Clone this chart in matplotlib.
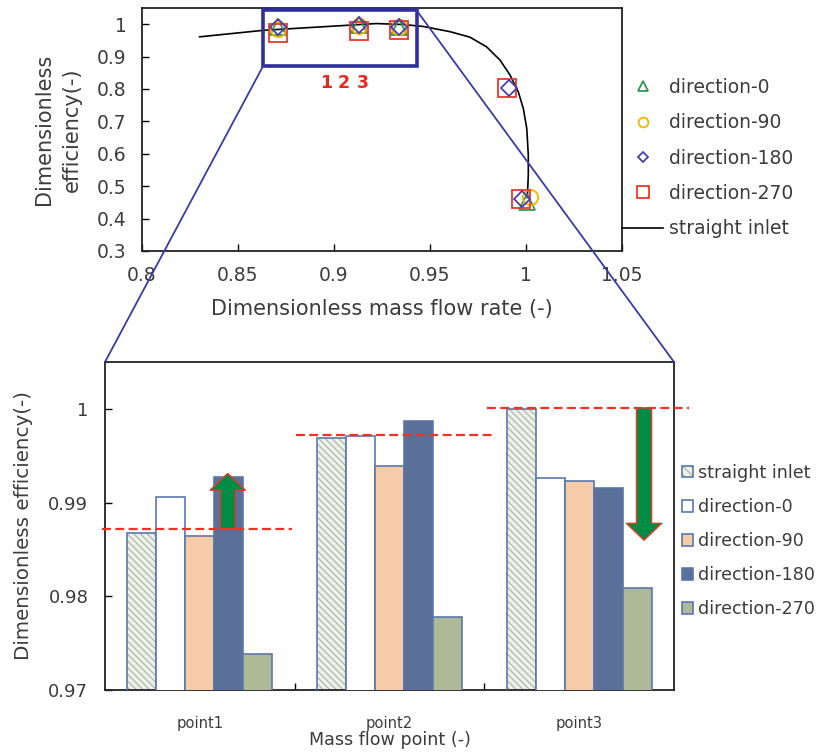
import numpy as np
import matplotlib
matplotlib.use('Agg')
import matplotlib.pyplot as plt
from matplotlib.patches import Rectangle, Patch, FancyArrowPatch, ConnectionPatch
from matplotlib.lines import Line2D
from matplotlib.legend_handler import HandlerTuple

plt.rcParams['font.family'] = 'DejaVu Sans'
plt.rcParams['hatch.linewidth'] = 0.8
TXT = '#3c3c3c'

# ---- top chart data ----
dir_labels = ['direction-0', 'direction-90', 'direction-180', 'direction-270']
dir0_x = [0.871, 0.913, 0.934, 1.0004]
dir0_y = [0.9906, 0.9971, 0.9926, 0.452]
dir90_x = [0.871, 0.913, 0.934, 1.002]
dir90_y = [0.9864, 0.9939, 0.9923, 0.467]
dir180_x = [0.871, 0.913, 0.934, 0.9911, 0.9977]
dir180_y = [0.9927, 0.9987, 0.9916, 0.803, 0.460]
dir270_x = [0.871, 0.913, 0.934, 0.9903, 0.9972]
dir270_y = [0.9738, 0.9778, 0.9809, 0.803, 0.462]

straight_x = [0.830, 0.863, 0.894, 0.922, 0.936, 0.9465, 0.9517, 0.9604, 0.9708,
              0.9795, 0.9865, 0.9917, 0.9960, 0.9986, 1.0004, 1.0012, 1.0012, 1.0007]
straight_y = [0.961, 0.981, 0.992, 1.002, 0.999, 0.993, 0.987, 0.977, 0.960,
              0.930, 0.889, 0.843, 0.791, 0.740, 0.678, 0.596, 0.534, 0.465]

top_xticks = [0.8, 0.85, 0.9, 0.95, 1.0, 1.05]
top_xlabels = ['0.8', '0.85', '0.9', '0.95', '1', '1.05']
top_yticks = [0.3, 0.4, 0.5, 0.6, 0.7, 0.8, 0.9, 1.0]
top_ylabels = ['0.3', '0.4', '0.5', '0.6', '0.7', '0.8', '0.9', '1']

# ---- bottom chart data ----
points = ['point1', 'point2', 'point3']
bar_labels = ['straight inlet', 'direction-0', 'direction-90', 'direction-180', 'direction-270']
straight_eff = [0.9867, 0.9969, 1.0000]
dir0_eff = [0.9906, 0.9971, 0.9926]
dir90_eff = [0.9864, 0.9939, 0.9923]
dir180_eff = [0.9927, 0.9987, 0.9916]
dir270_eff = [0.9738, 0.9778, 0.9809]
ref_levels = [0.9872, 0.9972, 1.0001]

fig = plt.figure(figsize=(8.23, 7.54), dpi=100)

# ================= top chart =================
ax1 = fig.add_axes([142 / 823, 1 - 251 / 754, 480 / 823, 243 / 754])
ax1.plot(straight_x, straight_y, color='black', lw=1.2, zorder=2)
ax1.plot(dir0_x, dir0_y, ls='none', marker='^', ms=11, mfc='none', mec='#2e9a4a', mew=1.3, zorder=3)
ax1.plot(dir90_x, dir90_y, ls='none', marker='o', ms=11, mfc='none', mec='#f5b400', mew=1.3, zorder=3)
ax1.plot(dir270_x, dir270_y, ls='none', marker='s', ms=13, mfc='none', mec='#e83a2a', mew=1.3, zorder=3)
ax1.plot(dir180_x, dir180_y, ls='none', marker='D', ms=8, mfc='none', mec='#4a40a8', mew=1.3, zorder=4)

ax1.set_xlim(0.8, 1.05)
ax1.set_ylim(0.3, 1.05)
ax1.set_xticks(top_xticks)
ax1.set_xticklabels(top_xlabels)
ax1.set_yticks(top_yticks)
ax1.set_yticklabels(top_ylabels)
ax1.tick_params(direction='in', length=5, width=1, labelsize=13.5, labelcolor=TXT)
ax1.tick_params(axis='x', pad=11)
ax1.tick_params(axis='y', pad=11)
for s in ax1.spines.values():
    s.set_linewidth(1.3)
    s.set_color('#222222')
ax1.set_xlabel('Dimensionless mass flow rate (-)', fontsize=15, color=TXT, labelpad=10)
ax1.set_ylabel('Dimensionless\nefficiency(-)', fontsize=15, color=TXT, labelpad=11, linespacing=1.45)

# zoom box and labels
ax1.add_patch(Rectangle((0.863, 0.870), 0.080, 0.173, fill=False, ec='#2f2f9c', lw=2.6,
                        clip_on=False, zorder=5))
for lab, xx in zip(['1', '2', '3'], [0.896, 0.905, 0.915]):
    ax1.text(xx, 0.818, lab, color='#e8281e', fontsize=12.5, fontweight='bold',
             ha='center', va='center')

top_handles = [
    Line2D([], [], ls='none', marker='^', ms=7, mfc='none', mec='#2e9a4a', mew=1.3),
    Line2D([], [], ls='none', marker='o', ms=7, mfc='none', mec='#f5b400', mew=1.3),
    Line2D([], [], ls='none', marker='D', ms=5.5, mfc='none', mec='#4a40a8', mew=1.3),
    Line2D([], [], ls='none', marker='s', ms=8, mfc='none', mec='#e83a2a', mew=1.3),
    Line2D([], [], color='black', lw=1.2),
]
fig.legend(top_handles, dir_labels + ['straight inlet'], loc='center left',
           bbox_to_anchor=(622 / 823, 1 - 158 / 754), frameon=False, fontsize=13.5,
           borderpad=0, borderaxespad=0, handlelength=2.2, handletextpad=0.3,
           labelspacing=0.87, labelcolor=TXT)

# ================= bottom chart =================
ax2 = fig.add_axes([105 / 823, 1 - 690 / 754, 569 / 823, 328 / 754])
x = np.arange(len(points))
w = 0.153
edge = '#5a78ad'
offs = [-2, -1, 0, 1, 2]

ax2.bar(x + offs[0] * w, straight_eff, w, bottom=0, color='#eef1ea', hatch='\\\\\\\\\\',
        edgecolor='#a7b39e', lw=0, zorder=2)
ax2.bar(x + offs[0] * w, straight_eff, w, bottom=0, fill=False, edgecolor=edge, lw=1.2, zorder=3)
series = [(dir0_eff, 'white'), (dir90_eff, '#f6cca8'), (dir180_eff, '#5a7099'), (dir270_eff, '#aeb997')]
for k, (vals, col) in enumerate(series):
    ax2.bar(x + offs[k + 1] * w, vals, w, color=col, edgecolor=edge, lw=1.2, zorder=3)

# reference dashed lines
ref_spans = [(-0.516, 0.484), (0.505, 1.563), (1.516, 2.579)]
for lvl, (a, b) in zip(ref_levels, ref_spans):
    ax2.plot([a, b], [lvl, lvl], color='#ee3322', lw=1.6, dashes=(4, 2), clip_on=False, zorder=6)

# arrows
for (xa, ya, yb) in [(0.147, 0.9872, 0.9931), (2.342, 1.0001, 0.9860)]:
    ax2.add_patch(FancyArrowPatch((xa, ya), (xa, yb),
                                  arrowstyle='simple,head_length=1.0,head_width=2.1,tail_width=0.9',
                                  mutation_scale=12, shrinkA=0, shrinkB=0,
                                  fc='#008c45', ec='#e03a2a', lw=1.1, zorder=7))

ax2.set_xlim(-0.5, 2.5)
ax2.set_ylim(0.97, 1.005)
ax2.set_xticks(x)
ax2.set_xticklabels(points)
ax2.set_xticks([0.5, 1.5], minor=True)
ax2.tick_params(axis='x', which='major', length=0, pad=19, labelsize=10.6, labelcolor=TXT)
ax2.tick_params(axis='x', which='minor', direction='in', length=5, width=1)
ax2.set_yticks([0.97, 0.98, 0.99, 1.0])
ax2.set_yticklabels(['0.97', '0.98', '0.99', '1'])
ax2.tick_params(axis='y', direction='in', length=5, width=1, pad=12, labelsize=13, labelcolor=TXT)
for s in ax2.spines.values():
    s.set_linewidth(1.3)
    s.set_color('#222222')
ax2.set_xlabel('Mass flow point (-)', fontsize=12.6, color=TXT, labelpad=0)
ax2.set_ylabel('Dimensionless efficiency(-)', fontsize=14.3, color=TXT, labelpad=11)

bot_handles = [
    (Patch(facecolor='#eef1ea', hatch='\\\\\\\\', edgecolor='#a7b39e', lw=0),
     Patch(fill=False, edgecolor=edge, lw=1.2)),
    Patch(facecolor='white', edgecolor=edge, lw=1.2),
    Patch(facecolor='#f6cca8', edgecolor=edge, lw=1.2),
    Patch(facecolor='#5a7099', edgecolor=edge, lw=1.2),
    Patch(facecolor='#aeb997', edgecolor=edge, lw=1.2),
]
fig.legend(bot_handles, bar_labels, loc='center left',
           bbox_to_anchor=(682 / 823, 1 - 541 / 754), frameon=False, fontsize=12.6,
           borderpad=0, borderaxespad=0, handlelength=0.65, handleheight=0.65,
           handletextpad=0.25, labelspacing=0.92, labelcolor=TXT,
           handler_map={tuple: HandlerTuple(ndivide=1, pad=0)})

# connector lines between zoom box and bottom chart
for pa, pb in [((0.863, 0.870), (0, 1)), ((0.943, 1.043), (1, 1))]:
    con = ConnectionPatch(xyA=pa, coordsA='data', axesA=ax1,
                          xyB=pb, coordsB='axes fraction', axesB=ax2,
                          color='#3b3ba3', lw=1.3, zorder=10)
    fig.add_artist(con)

fig.savefig('out.png', dpi=100)
